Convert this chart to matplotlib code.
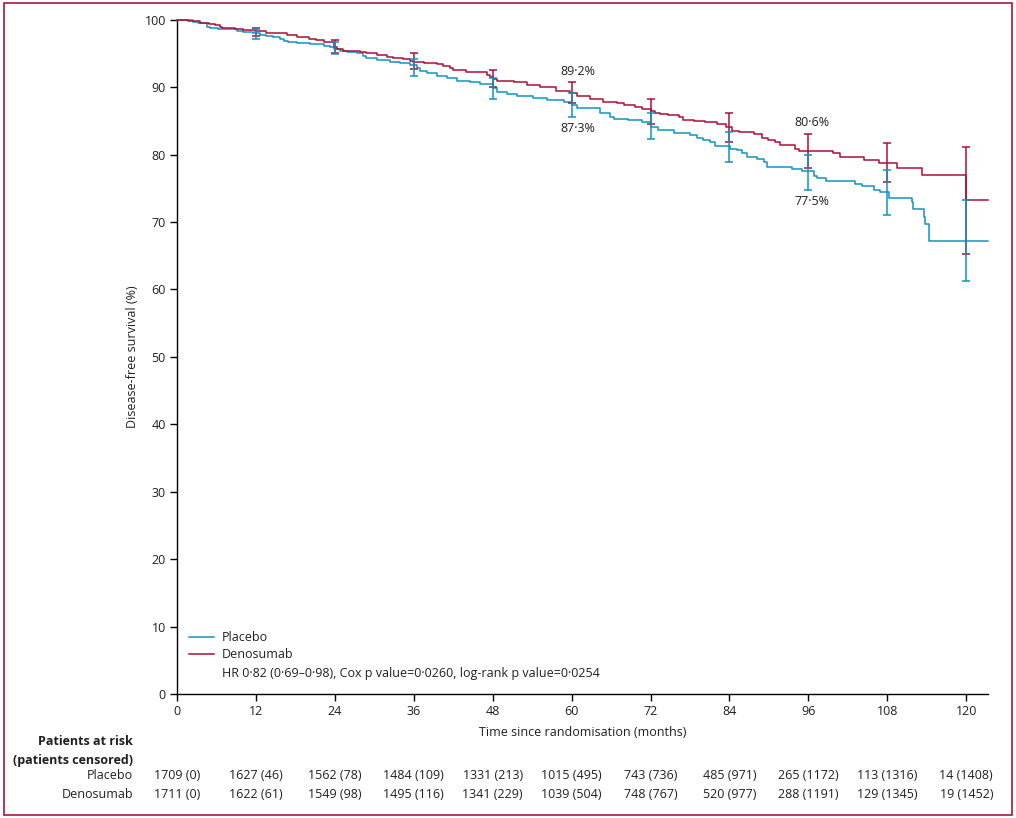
import numpy as np
import matplotlib
matplotlib.use("Agg")
import matplotlib.pyplot as plt
from matplotlib.patches import Rectangle

plt.rcParams['font.family'] = ['Open Sans', 'DejaVu Sans']

# Kaplan-Meier step curves (months, % disease-free)
placebo_t = [0, 2.5, 3.2, 4.5, 5.0, 6.3, 9.1, 10.1, 11.6, 12.6, 13.6, 14.6, 15.7, 16.2, 16.9,
             18.2, 20.2, 22.3, 23.3, 23.8, 24.8, 25.8, 27.3, 28.3, 28.8, 30.4, 32.4, 33.9,
             35.4, 36.5, 37.0, 38.0, 39.5, 41.0, 42.5, 44.6, 46.1, 48.0, 48.6, 50.1, 51.7,
             54.2, 56.2, 58.8, 60.0, 60.8, 63.3, 64.3, 65.9, 66.4, 68.5, 70.7, 72.0, 73.2,
             75.5, 78.0, 79.0, 80.05, 81.1, 81.8, 84.1, 85.1, 85.9, 86.6, 88.2, 89.2, 89.7,
             93.5, 95.0, 96.8, 97.3, 98.6, 103.1, 104.1, 105.9, 106.9, 108.2, 111.7, 111.9,
             113.5, 113.8, 114.3, 123.3]
placebo_s = [100, 99.65, 99.46, 98.97, 98.72, 98.57, 98.37, 98.13, 97.98, 97.73, 97.59, 97.39,
             97.14, 96.9, 96.65, 96.5, 96.35, 96.16, 95.9, 95.67, 95.42, 95.27, 95.0, 94.6,
             94.3, 94.04, 93.8, 93.55, 93.25, 92.8, 92.46, 92.05, 91.7, 91.3, 90.96, 90.7,
             90.4, 89.9, 89.3, 88.98, 88.7, 88.34, 88.1, 87.75, 87.3, 86.95, 86.85, 86.1,
             85.6, 85.3, 85.1, 84.9, 84.1, 83.6, 83.15, 82.9, 82.4, 82.1, 81.8, 81.3, 80.9,
             80.7, 80.3, 79.6, 79.3, 78.9, 78.1, 77.8, 77.5, 76.8, 76.5, 76.1, 75.7, 75.3,
             74.8, 74.45, 73.6, 72.9, 71.9, 70.8, 69.7, 67.2, 67.2]

denosumab_t = [0, 1.7, 3.5, 4.8, 5.8, 6.5, 6.8, 8.8, 10.1, 11.9, 13.6, 15.7, 16.7, 18.2, 20.0,
               21.2, 22.3, 23.8, 24.3, 25.3, 27.8, 28.8, 30.4, 31.9, 32.9, 34.4, 35.4, 35.9,
               37.5, 39.5, 40.5, 41.5, 42.0, 44.0, 46.1, 47.1, 47.6, 48.1, 48.6, 51.2, 53.2,
               55.2, 57.7, 59.8, 60.8, 62.8, 64.8, 66.9, 67.9, 69.7, 70.7, 72.0, 72.7, 73.5,
               74.7, 76.3, 77.0, 78.6, 80.3, 82.1, 83.4, 84.4, 85.4, 87.7, 88.9, 89.9, 90.95,
               91.7, 94.0, 94.5, 99.8, 100.8, 104.4, 106.7, 109.5, 113.3, 120.0, 123.3]
denosumab_s = [100, 99.75, 99.56, 99.36, 99.2, 98.97, 98.8, 98.57, 98.47, 98.3, 98.1, 97.98,
               97.78, 97.5, 97.2, 97.0, 96.7, 96.0, 95.6, 95.4, 95.27, 95.0, 94.8, 94.5, 94.3,
               94.1, 93.9, 93.7, 93.55, 93.4, 93.2, 92.85, 92.56, 92.3, 92.2, 91.8, 91.5,
               91.2, 90.96, 90.8, 90.3, 90.06, 89.5, 89.2, 88.7, 88.2, 87.85, 87.6, 87.4,
               87.1, 86.7, 86.4, 86.1, 86.0, 85.8, 85.5, 85.2, 85.0, 84.8, 84.6, 84.1, 83.5,
               83.3, 83.05, 82.5, 82.2, 81.8, 81.4, 80.9, 80.5, 80.2, 79.7, 79.2, 78.7, 78.0,
               77.0, 73.2, 73.2]

# 95% CI at yearly time points
ci_months = [12, 24, 36, 48, 60, 72, 84, 96, 108, 120]
placebo_ci_lo = [97.1, 94.9, 91.6, 88.3, 85.5, 82.3, 78.9, 74.7, 71.1, 61.25]
placebo_ci_hi = [98.6, 96.75, 94.1, 91.3, 89.1, 86.1, 83.3, 80.0, 77.7, 73.2]
denosumab_ci_lo = [97.6, 95.0, 92.66, 90.0, 87.6, 84.6, 81.9, 78.0, 75.9, 65.2]
denosumab_ci_hi = [98.8, 97.0, 95.0, 92.6, 90.7, 88.2, 86.1, 83.05, 81.7, 81.1]

# numbers at risk (censored)
risk_months = [0, 12, 24, 36, 48, 60, 72, 84, 96, 108, 120]
placebo_risk = ["1709 (0)", "1627 (46)", "1562 (78)", "1484 (109)", "1331 (213)", "1015 (495)",
                "743 (736)", "485 (971)", "265 (1172)", "113 (1316)", "14 (1408)"]
denosumab_risk = ["1711 (0)", "1622 (61)", "1549 (98)", "1495 (116)", "1341 (229)", "1039 (504)",
                  "748 (767)", "520 (977)", "288 (1191)", "129 (1345)", "19 (1452)"]

blue = '#0f94c0'
red = '#ad0e35'
txt = '#231f20'

fig = plt.figure(figsize=(10.16, 8.18), dpi=100)
ax = fig.add_axes([0.1742, 0.1516, 0.7982, 0.8243])

ax.step(placebo_t, placebo_s, where='post', color=blue, lw=1.1, clip_on=False, label='Placebo', zorder=3)
ax.step(denosumab_t, denosumab_s, where='post', color=red, lw=1.1, clip_on=False, label='Denosumab', zorder=3)

def ci_bars(lo, hi, colour):
    lo = np.array(lo)
    hi = np.array(hi)
    mid = (lo + hi) / 2
    ax.errorbar(ci_months, mid, yerr=[mid - lo, hi - mid], fmt='none', ecolor=colour,
                elinewidth=1.1, capsize=2.6, capthick=1.1, zorder=4, clip_on=False)

ci_bars(denosumab_ci_lo, denosumab_ci_hi, red)
ci_bars(placebo_ci_lo, placebo_ci_hi, blue)

# point estimates at 5 and 8 years
ax.text(60.9, 92.3, '89\u00b72%', ha='center', va='center', fontsize=9, color=txt)
ax.text(60.9, 83.9, '87\u00b73%', ha='center', va='center', fontsize=9, color=txt)
ax.text(96.5, 84.8, '80\u00b76%', ha='center', va='center', fontsize=9, color=txt)
ax.text(96.5, 73.0, '77\u00b75%', ha='center', va='center', fontsize=9, color=txt)

ax.set_xlim(0, 123.3)
ax.set_ylim(0, 100)
ax.set_xticks(risk_months)
ax.set_yticks(range(0, 101, 10))
ax.spines['top'].set_visible(False)
ax.spines['right'].set_visible(False)
for s in ['left', 'bottom']:
    ax.spines[s].set_linewidth(1.0)
ax.tick_params(length=5, width=1.0, labelsize=9, colors='black', labelcolor=txt, pad=3)
ax.set_xlabel('Time since randomisation (months)', fontsize=9, color=txt, labelpad=6)
ax.set_ylabel('Disease-free survival (%)', fontsize=9, color=txt, labelpad=4)

leg = ax.legend(loc='lower left', bbox_to_anchor=(0.0, 0.030), frameon=False, fontsize=9,
                handlelength=2.0, handletextpad=0.6, labelspacing=0.35, borderaxespad=0.6)
for t in leg.get_texts():
    t.set_color(txt)
ax.text(0.0555, 0.031, 'HR 0\u00b782 (0\u00b769\u20130\u00b798), Cox p value=0\u00b70260, log-rank p value=0\u00b70254',
        transform=ax.transAxes, fontsize=9, color=txt, va='center', ha='left')

# patients at risk table
xt = ax.get_xaxis_transform()
ax.text(-0.0543, -0.0712, 'Patients at risk', transform=ax.transAxes, ha='right', va='center',
        fontsize=9, fontweight='bold', color=txt)
ax.text(-0.0543, -0.0979, '(patients censored)', transform=ax.transAxes, ha='right', va='center',
        fontsize=9, fontweight='bold', color=txt)
ax.text(-0.0543, -0.1216, 'Placebo', transform=ax.transAxes, ha='right', va='center', fontsize=9, color=txt)
ax.text(-0.0543, -0.1498, 'Denosumab', transform=ax.transAxes, ha='right', va='center', fontsize=9, color=txt)
for m, p, d in zip(risk_months, placebo_risk, denosumab_risk):
    ax.text(m, -0.1216, p, transform=xt, ha='center', va='center', fontsize=9, color=txt)
    ax.text(m, -0.1498, d, transform=xt, ha='center', va='center', fontsize=9, color=txt)

# outer frame
fig.patches.append(Rectangle((4 / 1016, 3 / 818), 1007.5 / 1016, 812 / 818, transform=fig.transFigure,
                             fill=False, edgecolor='#a8173f', linewidth=1.2))

fig.savefig('out.png', dpi=100)
